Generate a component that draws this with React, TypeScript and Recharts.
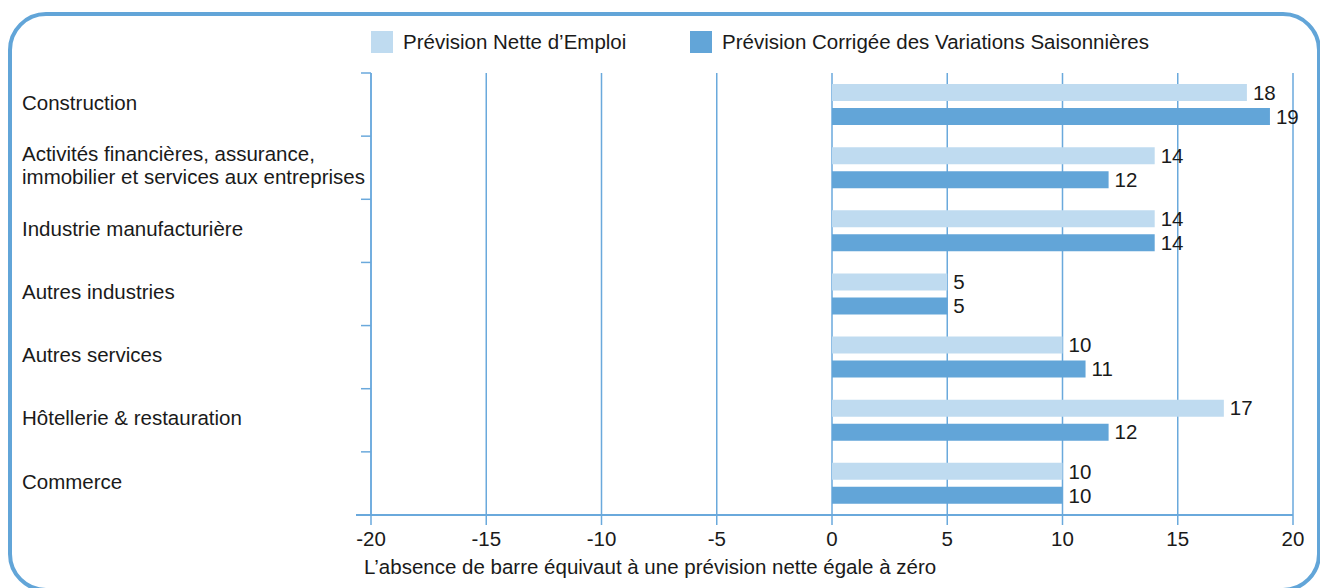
import React from 'react';
import * as RC from 'recharts';
import { BarChart, Bar, XAxis, YAxis, CartesianGrid, LabelList, Customized } from 'recharts';

const categories = [
  'Construction',
  'Activités financières, assurance,\nimmobilier et services aux entreprises',
  'Industrie manufacturière',
  'Autres industries',
  'Autres services',
  'Hôtellerie & restauration',
  'Commerce',
];
const previsionNette = [18, 14, 14, 5, 10, 17, 10];
const previsionCorrigee = [19, 12, 14, 5, 11, 12, 10];
const xTicks = [-20, -15, -10, -5, 0, 5, 10, 15, 20];
const seriesNames = ['Prévision Nette d’Emploi', 'Prévision Corrigée des Variations Saisonnières'];
const caption = 'L’absence de barre équivaut à une prévision nette égale à zéro';

const LIGHT = '#bfdbf0';
const DARK = '#62a5d8';
const LINE = '#6aa9dc';
const TEXT = '#1a1a1a';
const FONT = '"Liberation Sans", Arial, Helvetica, sans-serif';
const FS = 20.5;

const data = categories.map((name, i) => ({
  name,
  nette: previsionNette[i],
  corrigee: previsionCorrigee[i],
}));

const W = 1320;
const H = 588;
const XH = 73;
const MARGIN = { top: 73, right: 27, bottom: 0, left: 0 };
const YW = 371;

const usePlotAreaSafe: () => any = (RC as any).usePlotArea ?? (() => null);

function Decor() {
  const pa = usePlotAreaSafe() || {
    x: MARGIN.left + YW,
    y: MARGIN.top,
    width: W - MARGIN.left - YW - MARGIN.right,
    height: H - MARGIN.top - MARGIN.bottom - XH,
  };
  const n = categories.length;
  const step = pa.height / n;
  const ticks = [];
  for (let i = 0; i <= n; i++) {
    const yy = pa.y + i * step;
    ticks.push(<line key={i} x1={pa.x - 10} x2={pa.x} y1={yy} y2={yy} stroke={LINE} strokeWidth={1.5} />);
  }
  const by = pa.y + pa.height;
  return (
    <g>
      {ticks}
      <line x1={pa.x - 15} x2={pa.x} y1={by} y2={by} stroke={LINE} strokeWidth={2} />
      <text x={pa.x - 7} y={by + 52} dy="0.35em" fontSize={FS} fontFamily={FONT} fill={TEXT}>
        {caption}
      </text>
    </g>
  );
}

const CatTick = (props: any) => {
  const { y, payload } = props;
  const lines = String(payload.value).split('\n');
  const lh = 23;
  const y0 = y - 2 - ((lines.length - 1) * lh) / 2;
  return (
    <text x={22} y={y0} textAnchor="start" fontSize={FS} fontFamily={FONT} fill={TEXT}>
      {lines.map((l, i) => (
        <tspan key={i} x={22} y={y0 + i * lh} dy="0.35em">
          {l}
        </tspan>
      ))}
    </text>
  );
};

const Legend2 = () => {
  const items = [
    { name: seriesNames[0], color: LIGHT, x: 371 },
    { name: seriesNames[1], color: DARK, x: 690 },
  ];
  return (
    <>
      {items.map((it) => (
        <div
          key={it.name}
          style={{ position: 'absolute', left: it.x, top: 31, height: 22, display: 'flex', alignItems: 'center' }}
        >
          <div style={{ width: 22, height: 22, background: it.color, marginRight: 10 }} />
          <span style={{ fontFamily: FONT, fontSize: FS, color: TEXT, whiteSpace: 'nowrap', lineHeight: '22px' }}>
            {it.name}
          </span>
        </div>
      ))}
    </>
  );
};

export default function App() {
  return (
    <div style={{ position: 'absolute', left: 0, top: 0, width: W, height: H, overflow: 'hidden', background: '#fff' }}>
      <div
        style={{
          position: 'absolute',
          left: 8,
          top: 12,
          width: 1313,
          height: 580,
          border: `4px solid ${DARK}`,
          borderRadius: 38,
          boxSizing: 'border-box',
        }}
      />
      <Legend2 />
      <div style={{ position: 'absolute', left: 0, top: 0 }}>
        <BarChart
          width={W}
          height={H}
          data={data}
          layout="vertical"
          margin={MARGIN}
          barSize={17}
          barGap={7}
        >
          <CartesianGrid horizontal={false} vertical stroke={LINE} strokeWidth={1.5} />
          <XAxis
            type="number"
            domain={[-20, 20]}
            ticks={xTicks}
            interval={0}
            axisLine={{ stroke: LINE, strokeWidth: 2 }}
            tickLine={{ stroke: LINE, strokeWidth: 1.5 }}
            tickSize={10}
            tickMargin={6}
            tick={{ fill: TEXT, fontSize: FS, fontFamily: FONT }}
            height={XH}
          />
          <YAxis
            type="category"
            dataKey="name"
            width={YW}
            axisLine={{ stroke: LINE, strokeWidth: 1.5 }}
            tickLine={false}
            tick={<CatTick />}
            interval={0}
          />
          <Bar dataKey="nette" name={seriesNames[0]} fill={LIGHT} isAnimationActive={false}>
            <LabelList dataKey="nette" position="right" offset={6} fill={TEXT} fontSize={FS} fontFamily={FONT} />
          </Bar>
          <Bar dataKey="corrigee" name={seriesNames[1]} fill={DARK} isAnimationActive={false}>
            <LabelList dataKey="corrigee" position="right" offset={6} fill={TEXT} fontSize={FS} fontFamily={FONT} />
          </Bar>
          <Customized component={<Decor />} />
        </BarChart>
      </div>
    </div>
  );
}
